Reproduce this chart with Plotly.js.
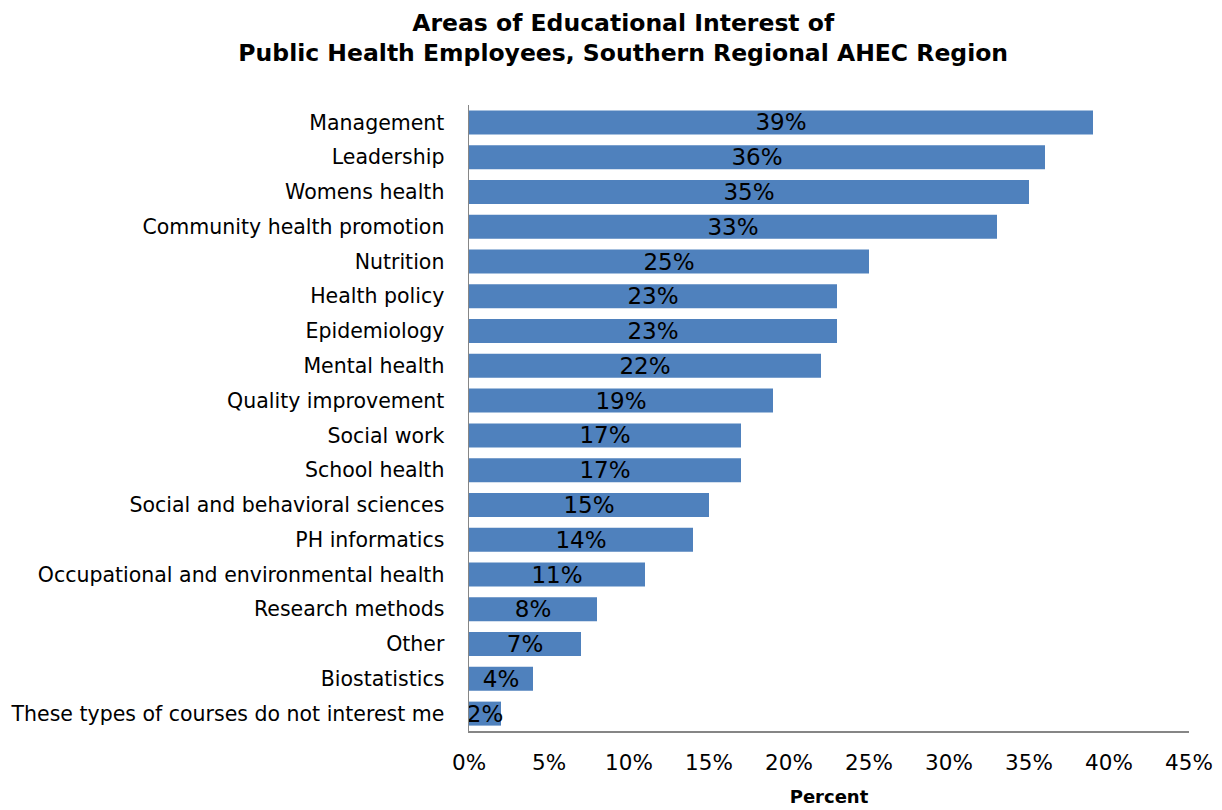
<!DOCTYPE html>
<html>
<head>
<meta charset="utf-8">
<script src="https://cdn.plot.ly/plotly-3.0.1.min.js"></script>
<style>html,body{margin:0;padding:0;background:#fff;}#chart{width:1222px;height:810px;}</style>
</head>
<body>
<div id="chart"></div>
<script>
const categories = [
  "Management",
  "Leadership",
  "Womens health",
  "Community health promotion",
  "Nutrition",
  "Health policy",
  "Epidemiology",
  "Mental health",
  "Quality improvement",
  "Social work",
  "School health",
  "Social and behavioral sciences",
  "PH informatics",
  "Occupational and environmental health",
  "Research methods",
  "Other",
  "Biostatistics",
  "These types of courses do not interest me"
];
const percentValues = [39, 36, 35, 33, 25, 23, 23, 22, 19, 17, 17, 15, 14, 11, 8, 7, 4, 2];
const tickValues = [0, 5, 10, 15, 20, 25, 30, 35, 40, 45];
const tickLabels = ["0%", "5%", "10%", "15%", "20%", "25%", "30%", "35%", "40%", "45%"];

const FONT = "DejaVu Sans";

const trace = {
  type: "bar",
  orientation: "h",
  y: categories,
  x: percentValues,
  marker: {color: "#4F81BD", line: {width: 0}},
  width: 0.69,
  text: percentValues.map(v => v + "%"),
  textposition: "inside",
  insidetextanchor: "middle",
  textangle: 0,
  constraintext: "none",
  cliponaxis: false,
  textfont: {family: FONT, size: 23, color: "#000"},
  hoverinfo: "skip"
};

const layout = {
  width: 1222,
  height: 810,
  margin: {l: 469, r: 33, t: 105, b: 79},
  paper_bgcolor: "#fff",
  plot_bgcolor: "#fff",
  showlegend: false,
  font: {family: FONT, size: 20.5, color: "#000"},
  title: {
    text: "<b>Areas of Educational Interest of<br>Public Health Employees, Southern Regional AHEC Region</b>",
    font: {family: FONT, size: 23.5, color: "#000"},
    x: 0.51, xanchor: "center",
    y: 0.962, yanchor: "top"
  },
  xaxis: {
    range: [0, 45],
    tickmode: "array",
    tickvals: tickValues,
    ticktext: tickLabels,
    showgrid: false,
    zeroline: false,
    showline: true,
    linecolor: "#868686",
    linewidth: 1.5,
    ticks: "",
    ticklen: 0,
    ticklabelstandoff: 12,
    tickfont: {family: FONT, size: 21.5, color: "#000"},
    title: {text: "<b>Percent</b>", font: {family: FONT, size: 18, color: "#000"}, standoff: 16},
    fixedrange: true
  },
  yaxis: {
    type: "category",
    autorange: "reversed",
    showgrid: false,
    zeroline: false,
    showline: true,
    linecolor: "#868686",
    linewidth: 1.5,
    ticks: "",
    ticklabelstandoff: 19,
    tickfont: {family: FONT, size: 20.5, color: "#000"},
    fixedrange: true
  },
  bargap: 0.31
};

Plotly.newPlot("chart", [trace], layout, {displayModeBar: false, staticPlot: true});
</script>
</body>
</html>
